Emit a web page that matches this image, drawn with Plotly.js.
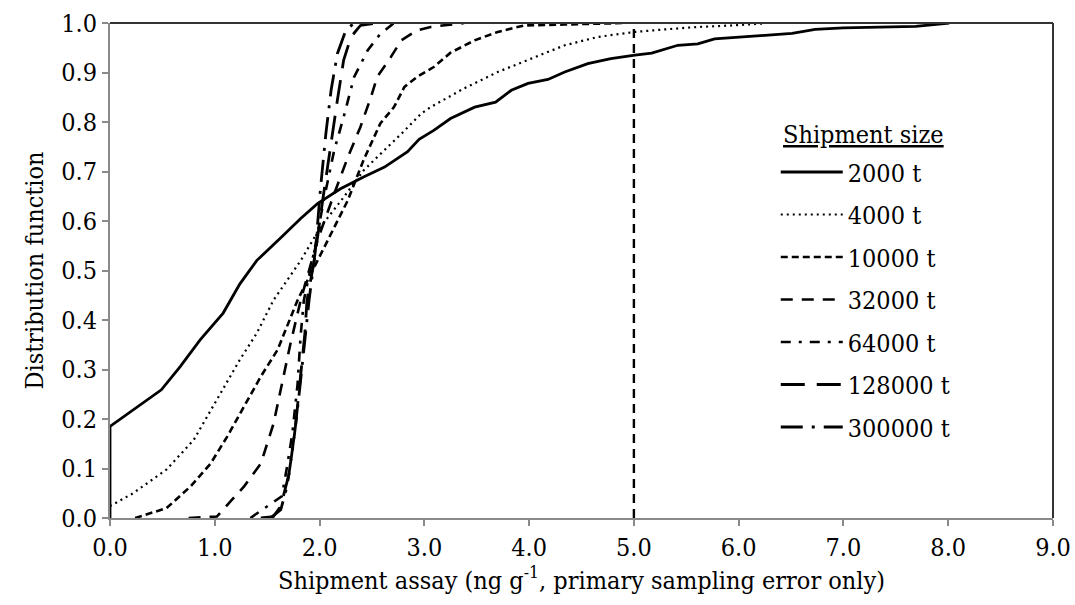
<!DOCTYPE html>
<html>
<head>
<meta charset="utf-8">
<script src="https://cdn.plot.ly/plotly-3.0.1.min.js"></script>
<style>html,body{margin:0;padding:0;background:#fff;}#chart{width:1075px;height:605px;}</style>
</head>
<body>
<div id="chart"></div>
<script>
// Series names (shipment sizes)
const seriesNames = ["2000 t", "4000 t", "10000 t", "32000 t", "64000 t", "128000 t", "300000 t"];
const legendTitle = "Shipment size";

// Shipment assay values (x) and distribution function (y) per series
const x2000 = [0, 0, 0.49, 0.67, 0.86, 1.08, 1.24, 1.40, 1.64, 1.82, 1.98, 2.20, 2.42, 2.62, 2.84, 2.95, 3.09, 3.25, 3.48, 3.68, 3.83, 3.99, 4.18, 4.34, 4.56, 4.78, 5.01, 5.17, 5.42, 5.61, 5.77, 6.00, 6.25, 6.51, 6.73, 7.00, 7.69, 8.01];
const y2000 = [0, 0.185, 0.259, 0.306, 0.36, 0.414, 0.473, 0.52, 0.568, 0.605, 0.635, 0.665, 0.689, 0.709, 0.74, 0.765, 0.783, 0.807, 0.83, 0.84, 0.864, 0.878, 0.886, 0.901, 0.918, 0.928, 0.935, 0.939, 0.955, 0.958, 0.968, 0.972, 0.975, 0.979, 0.987, 0.99, 0.993, 1.0];

const x4000 = [0, 0.22, 0.54, 0.80, 1.02, 1.24, 1.40, 1.56, 1.82, 2.01, 2.23, 2.42, 2.55, 2.78, 2.97, 3.06, 3.38, 3.70, 4.02, 4.34, 4.66, 5.01, 5.29, 5.61, 5.93, 6.24];
const y4000 = [0.024, 0.05, 0.098, 0.158, 0.239, 0.32, 0.373, 0.44, 0.52, 0.588, 0.648, 0.702, 0.729, 0.776, 0.817, 0.83, 0.868, 0.901, 0.928, 0.955, 0.972, 0.982, 0.987, 0.992, 0.995, 0.999];

const x10000 = [0.24, 0.54, 0.77, 0.96, 1.12, 1.28, 1.44, 1.60, 1.75, 1.79, 1.95, 2.11, 2.27, 2.42, 2.58, 2.71, 2.81, 2.93, 3.09, 3.25, 3.48, 3.70, 3.95, 4.34, 4.91];
const y10000 = [0, 0.02, 0.064, 0.11, 0.165, 0.225, 0.286, 0.34, 0.42, 0.44, 0.507, 0.574, 0.642, 0.723, 0.797, 0.83, 0.871, 0.891, 0.911, 0.94, 0.965, 0.982, 0.995, 0.997, 1.0];

const x32000 = [0.75, 1.02, 1.28, 1.44, 1.56, 1.64, 1.72, 1.82, 1.98, 2.14, 2.27, 2.39, 2.49, 2.55, 2.68, 2.78, 2.93, 3.06, 3.38];
const y32000 = [0, 0.003, 0.064, 0.11, 0.19, 0.27, 0.35, 0.44, 0.561, 0.655, 0.729, 0.79, 0.85, 0.891, 0.931, 0.965, 0.985, 0.992, 1.0];

const x64000 = [1.34, 1.50, 1.64, 1.69, 1.74, 1.79, 1.82, 1.85, 1.95, 2.04, 2.14, 2.23, 2.33, 2.46, 2.58, 2.71];
const y64000 = [0, 0.024, 0.044, 0.104, 0.17, 0.27, 0.37, 0.44, 0.54, 0.642, 0.743, 0.81, 0.891, 0.945, 0.978, 1.0];

const x128000 = [1.44, 1.56, 1.63, 1.71, 1.77, 1.82, 1.86, 1.88, 1.95, 2.03, 2.11, 2.17, 2.23, 2.30, 2.39, 2.55];
const y128000 = [0, 0.003, 0.024, 0.09, 0.185, 0.286, 0.373, 0.44, 0.52, 0.642, 0.763, 0.844, 0.925, 0.972, 0.995, 1.0];

const x300000 = [1.53, 1.63, 1.69, 1.75, 1.80, 1.85, 1.90, 1.96, 2.01, 2.06, 2.11, 2.17, 2.25, 2.33];
const y300000 = [0, 0.017, 0.064, 0.15, 0.24, 0.34, 0.44, 0.54, 0.668, 0.776, 0.864, 0.938, 0.985, 1.0];

// Reference vertical line at assay 5.0
const refLineX = [5, 5];
const refLineY = [0, 1];

const xTickVals = [0, 1, 2, 3, 4, 5, 6, 7, 8, 9];
const yTickVals = [0, 0.1, 0.2, 0.3, 0.4, 0.5, 0.6, 0.7, 0.8, 0.9, 1.0];

const FONT = "'DejaVu Serif Condensed', 'DejaVu Serif', serif";
const FS = 25;

const seriesX = [x2000, x4000, x10000, x32000, x64000, x128000, x300000];
const seriesY = [y2000, y4000, y10000, y32000, y64000, y128000, y300000];
const dashes = ["solid", "2px,4px", "7px,4px", "12px,9px", "10px,8px,3px,8px", "24px,12px", "22px,9px,3px,9px"];
const widths = [2.8, 2.2, 2.6, 2.6, 2.6, 2.8, 2.8];

const traces = seriesNames.map((n, i) => ({
  type: "scatter", mode: "lines", name: n,
  x: seriesX[i], y: seriesY[i],
  legendgroup: "g" + i,
  line: {color: "#000", width: widths[i], dash: dashes[i]},
  hoverinfo: "skip"
}));
traces.push({
  type: "scatter", mode: "lines", x: refLineX, y: refLineY, showlegend: false,
  line: {color: "#000", width: 2.4, dash: "9px,6px"}, hoverinfo: "skip"
});

const layout = {
  width: 1075, height: 605,
  margin: {l: 110, r: 22, t: 23, b: 87},
  paper_bgcolor: "#fff", plot_bgcolor: "#fff",
  font: {family: FONT, size: FS, color: "#000"},
  showlegend: true,
  xaxis: {
    range: [0, 9], tickvals: xTickVals, tickformat: ".1f",
    showgrid: false, zeroline: false,
    showline: true, linecolor: "#8a8a8a", linewidth: 2,
    ticks: "outside", ticklen: 6, tickcolor: "#8a8a8a", tickwidth: 2,
    ticklabeloverflow: "allow",
    tickfont: {family: FONT, size: FS, color: "#000"},
    title: {text: "Shipment assay (ng g<sup>-1</sup>, primary sampling error only)", font: {family: FONT, size: FS, color: "#000"}, standoff: 6}
  },
  yaxis: {
    range: [0, 1], tickvals: yTickVals, tickformat: ".1f",
    showgrid: false, zeroline: false,
    showline: true, linecolor: "#8a8a8a", linewidth: 2,
    ticks: "outside", ticklen: 6, tickcolor: "#8a8a8a", tickwidth: 2,
    tickfont: {family: FONT, size: FS, color: "#000"},
    title: {text: "Distribution function", font: {family: FONT, size: FS, color: "#000"}, standoff: 10}
  },
  legend: {
    x: 0.706, xanchor: "left", y: 0.745, yanchor: "top",
    bgcolor: "rgba(0,0,0,0)", borderwidth: 0,
    font: {family: FONT, size: FS, color: "#000"},
    itemwidth: 62, traceorder: "grouped", tracegroupgap: 7
  },
  annotations: [
    {xref: "paper", yref: "paper", x: 0.712, y: 0.774, xanchor: "left", yanchor: "middle",
     text: "<u>" + legendTitle + "</u>", showarrow: false, font: {family: FONT, size: FS, color: "#000"}}
  ],
  shapes: [
    {type: "line", xref: "paper", yref: "paper", x0: 0, x1: 1, y0: 1, y1: 1, line: {color: "#333", width: 2}},
    {type: "line", xref: "paper", yref: "paper", x0: 1, x1: 1, y0: 0, y1: 1, line: {color: "#333", width: 2}}
  ]
};

Plotly.newPlot("chart", traces, layout, {staticPlot: true, displayModeBar: false});
</script>
</body>
</html>
